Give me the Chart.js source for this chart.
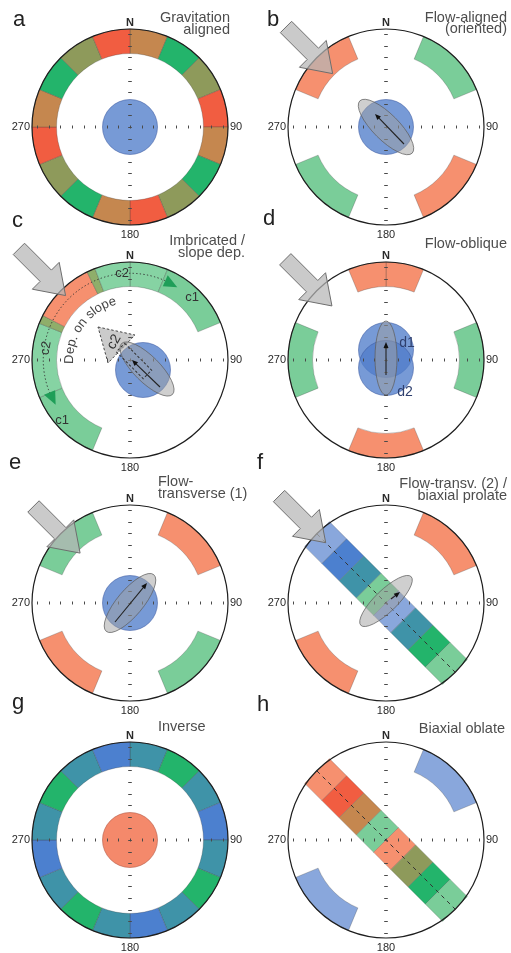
<!DOCTYPE html>
<html>
<head>
<meta charset="utf-8">
<script src="https://cdn.jsdelivr.net/npm/chart.js@4.4.1/dist/chart.umd.min.js"></script>
<style>
  html, body { margin: 0; padding: 0; background: #fff; }
  body { position: relative; width: 511px; height: 953px; overflow: hidden; font-family: "Liberation Sans", Arial, sans-serif; }
  canvas { position: absolute; }
  .t { position: absolute; white-space: nowrap; color: #4d4d4d; }
</style>
</head>
<body>
<script>
// colours
const RED = '#f15d41', BRN = '#c5874f', OLV = '#8e9a5b', GRN = '#23b46b';
const SAL = '#f6906f', LGR = '#7acd99', TEA = '#3f93a8', BLU = '#4c80cf', LBL = '#89a7dc';
const CG1 = '#7acd99', CG2 = '#86d3a3', COL = '#8fae6a';
const NONE = 'rgba(0,0,0,0)';
const DISC = 'rgba(81,126,203,0.78)';
const DISC_G = '#f4896b';

// ring sectors, widths in degrees clockwise from N
const spanA = [22.5, 22.5, 22.5, 22.5, 22.5, 22.5, 22.5, 22.5, 22.5, 22.5, 22.5, 22.5, 22.5, 22.5, 22.5, 22.5];
const colA = [BRN, GRN, OLV, RED, BRN, GRN, OLV, RED, BRN, GRN, OLV, RED, BRN, GRN, OLV, RED];
const colG = [TEA, GRN, TEA, BLU, TEA, GRN, TEA, BLU, TEA, GRN, TEA, BLU, TEA, GRN, TEA, BLU];
const spanQ = [22.5, 45, 45, 45, 45, 45, 45, 45, 22.5];
const colB = [NONE, LGR, NONE, SAL, NONE, LGR, NONE, SAL, NONE];
const colD = [SAL, NONE, LGR, NONE, SAL, NONE, LGR, NONE, SAL];
const colE = [NONE, SAL, NONE, LGR, NONE, SAL, NONE, LGR, NONE];
const colF = [NONE, SAL, NONE, NONE, NONE, SAL, NONE, NONE, NONE];
const colH = [NONE, LBL, NONE, NONE, NONE, LBL, NONE, NONE, NONE];
const spanC = [22.5, 45, 135, 45, 44.5, 5, 37, 5, 21];
const colC = [CG2, CG1, NONE, CG1, CG2, COL, SAL, COL, CG2];

// diagonal bands of cells (NW -> SE)
const bandF = [LBL, BLU, TEA, LGR, LBL, TEA, GRN, LGR];
const bandH = [SAL, RED, BRN, LGR, SAL, OLV, GRN, LGR];

// axis labels
const axisLabels = ['N', '90', '180', '270'];

const panels = [
  { id: 'a', cx: 130, cy: 127, span: spanA, colors: colA, disc: DISC },
  { id: 'b', cx: 386, cy: 127, span: spanQ, colors: colB, disc: DISC, arrow: 0.77,
    ell: { x: 0, y: 0, a: 37, b: 13, ang: 45 }, vec: [18, 17, -11, -13] },
  { id: 'c', cx: 130, cy: 360, span: spanC, colors: colC, discs: [[13, 10]], arrow: 0.93,
    ell: { x: 17, y: 9, a: 36, b: 13, ang: 45 }, vec: [30, 27, 2, 0] },
  { id: 'd', cx: 386, cy: 360, span: spanQ, colors: colD, discs: [[0, -10], [0, 8]], arrow: 0.78,
    ell: { x: 0, y: -2, a: 37, b: 11, ang: 90 }, vec: [0, 15, 0, -18] },
  { id: 'e', cx: 130, cy: 603, span: spanQ, colors: colE, disc: DISC, arrow: 0.72,
    ell: { x: 0, y: 0, a: 37, b: 13, ang: -50 }, vec: [-15, 19, 17, -20] },
  { id: 'f', cx: 386, cy: 603, span: spanQ, colors: colF, band: bandF, arrow: 0.87,
    ell: { x: 0, y: -2, a: 35, b: 11, ang: -44 }, vec: [5, -4, 14, -11] },
  { id: 'g', cx: 130, cy: 840, span: spanA, colors: colG, disc: DISC_G },
  { id: 'h', cx: 386, cy: 840, span: spanQ, colors: colH, band: bandH }
];

function addText(str, x, base, size, align, color) {
  const d = document.createElement('div');
  d.className = 't';
  d.textContent = str;
  d.style.fontSize = size + 'px';
  d.style.lineHeight = size + 'px';
  d.style.top = (base - 0.8465 * size) + 'px';
  if (align === 'right') d.style.right = (511 - x) + 'px';
  else d.style.left = x + 'px';
  if (color) d.style.color = color;
  document.body.appendChild(d);
}

function rad(d) { return d * Math.PI / 180; }

function drawCross(ctx, cx, cy, R) {
  const s = R / 8.45;
  ctx.strokeStyle = '#4a4a4a';
  ctx.lineWidth = 1;
  ctx.setLineDash([]);
  ctx.beginPath();
  for (let k = -8; k <= 8; k++) {
    const x = Math.round(cx + k * s) + 0.5;
    ctx.moveTo(x, cy - 1.5); ctx.lineTo(x, cy + 1.5);
    const y = Math.round(cy + k * s) + 0.5;
    ctx.moveTo(cx - 1.8, y); ctx.lineTo(cx + 1.8, y);
  }
  ctx.stroke();
}

function ellipse(ctx, x, y, a, b, ang, fill, stroke) {
  ctx.beginPath();
  ctx.ellipse(x, y, a, b, rad(ang), 0, Math.PI * 2);
  ctx.fillStyle = fill; ctx.fill();
  ctx.strokeStyle = stroke; ctx.lineWidth = 1; ctx.stroke();
}

function vecArrow(ctx, x0, y0, x1, y1) {
  const ang = Math.atan2(y1 - y0, x1 - x0);
  ctx.strokeStyle = '#222'; ctx.lineWidth = 1.1; ctx.setLineDash([]);
  ctx.beginPath(); ctx.moveTo(x0, y0); ctx.lineTo(x1 - 3 * Math.cos(ang), y1 - 3 * Math.sin(ang)); ctx.stroke();
  ctx.fillStyle = '#111';
  ctx.beginPath();
  ctx.moveTo(x1, y1);
  ctx.lineTo(x1 - 6 * Math.cos(ang) + 2.5 * Math.sin(ang), y1 - 6 * Math.sin(ang) - 2.5 * Math.cos(ang));
  ctx.lineTo(x1 - 6 * Math.cos(ang) - 2.5 * Math.sin(ang), y1 - 6 * Math.sin(ang) + 2.5 * Math.cos(ang));
  ctx.closePath(); ctx.fill();
}

function bigArrow(ctx, cx, cy, R, tipDist) {
  const ux = Math.SQRT1_2, uy = Math.SQRT1_2;
  const nx = -uy, ny = ux;
  const tx = cx - ux * tipDist * R, ty = cy - uy * tipDist * R;
  const L = 66, H = 28, w = 8, hw = 19;
  const bx = tx - ux * H, by = ty - uy * H;
  const sx = tx - ux * L, sy = ty - uy * L;
  ctx.beginPath();
  ctx.moveTo(sx + nx * w, sy + ny * w);
  ctx.lineTo(bx + nx * w, by + ny * w);
  ctx.lineTo(bx + nx * hw, by + ny * hw);
  ctx.lineTo(tx, ty);
  ctx.lineTo(bx - nx * hw, by - ny * hw);
  ctx.lineTo(bx - nx * w, by - ny * w);
  ctx.lineTo(sx - nx * w, sy - ny * w);
  ctx.closePath();
  ctx.fillStyle = 'rgba(182,182,182,0.72)'; ctx.fill();
  ctx.strokeStyle = '#6e6e6e'; ctx.lineWidth = 1; ctx.setLineDash([]); ctx.stroke();
}

function drawBand(ctx, cx, cy, cols) {
  const ux = Math.SQRT1_2, uy = Math.SQRT1_2;
  const nx = -uy, ny = ux;
  const L = 24.4, W = 35, n = cols.length;
  cols.forEach((c, i) => {
    const s0 = (i - n / 2) * L, s1 = s0 + L;
    ctx.beginPath();
    ctx.moveTo(cx + ux * s0 + nx * W / 2, cy + uy * s0 + ny * W / 2);
    ctx.lineTo(cx + ux * s1 + nx * W / 2, cy + uy * s1 + ny * W / 2);
    ctx.lineTo(cx + ux * s1 - nx * W / 2, cy + uy * s1 - ny * W / 2);
    ctx.lineTo(cx + ux * s0 - nx * W / 2, cy + uy * s0 - ny * W / 2);
    ctx.closePath();
    ctx.fillStyle = c; ctx.fill();
    ctx.strokeStyle = 'rgba(70,70,70,0.3)'; ctx.lineWidth = 0.8; ctx.stroke();
  });
  const e = n / 2 * L;
  ctx.setLineDash([4, 4]);
  ctx.strokeStyle = '#333'; ctx.lineWidth = 1;
  ctx.beginPath();
  ctx.moveTo(cx - ux * e, cy - uy * e); ctx.lineTo(cx + ux * e, cy + uy * e);
  ctx.stroke();
  ctx.setLineDash([]);
}

function arcText(ctx, str, cx, cy, r, startDeg) {
  let a = rad(startDeg);
  for (const ch of str) {
    const w = ctx.measureText(ch).width;
    const mid = a + (w / 2) / r;
    ctx.save();
    ctx.translate(cx + r * Math.sin(mid), cy - r * Math.cos(mid));
    ctx.rotate(mid);
    ctx.fillText(ch, 0, 0);
    ctx.restore();
    a += w / r;
  }
}

function tri(ctx, pts, fill) {
  ctx.beginPath();
  ctx.moveTo(pts[0], pts[1]); ctx.lineTo(pts[2], pts[3]); ctx.lineTo(pts[4], pts[5]);
  ctx.closePath(); ctx.fillStyle = fill; ctx.fill();
}

function extrasC(ctx, cx, cy, R) {
  // dotted arc (c2 sense) with arrowheads
  const r = 0.885 * R;
  ctx.setLineDash([1.3, 2.3]);
  ctx.strokeStyle = '#333'; ctx.lineWidth = 1;
  ctx.beginPath();
  ctx.arc(cx, cy, r, rad(245 - 90), rad(387 - 90));
  ctx.stroke();
  ctx.setLineDash([]);
  const head = (deg, dir) => {
    const a0 = rad(deg), a1 = rad(deg + dir * 9);
    const p = (a, rr) => [cx + rr * Math.sin(a), cy - rr * Math.cos(a)];
    const t = p(a1, r), b1 = p(a0, r - 6), b2 = p(a0, r + 6);
    tri(ctx, [t[0], t[1], b1[0], b1[1], b2[0], b2[1]], '#1f9e58');
  };
  head(24, 1);
  head(248, -1);
  // dashed triangle (c2 direction)
  ctx.beginPath();
  ctx.moveTo(cx - 32, cy - 33); ctx.lineTo(cx + 5, cy - 25); ctx.lineTo(cx - 22, cy + 3);
  ctx.closePath();
  ctx.fillStyle = 'rgba(190,190,190,0.8)'; ctx.fill();
  ctx.setLineDash([2.5, 2]); ctx.strokeStyle = '#444'; ctx.stroke();
  ctx.setLineDash([]);
  ctx.fillStyle = '#333';
  ctx.font = '14px "Liberation Sans", Arial, sans-serif';
  ctx.textAlign = 'center'; ctx.textBaseline = 'middle';
  ctx.save(); ctx.translate(cx - 16, cy - 18); ctx.rotate(rad(-60)); ctx.fillText('c2', 0, 0); ctx.restore();
  // curved label
  ctx.font = '13px "Liberation Sans", Arial, sans-serif';
  ctx.textAlign = 'center'; ctx.textBaseline = 'alphabetic';
  ctx.fillStyle = '#444';
  arcText(ctx, 'Dep. on slope', cx, cy, 57, 266);
  // ring labels
  ctx.font = '13px "Liberation Sans", Arial, sans-serif';
  ctx.textBaseline = 'middle';
  ctx.fillStyle = '#333';
  ctx.fillText('c1', cx + 62, cy - 63);
  ctx.fillText('c1', cx - 68, cy + 60);
  ctx.fillText('c2', cx - 8, cy - 87);
  ctx.save(); ctx.translate(cx - 84, cy - 12); ctx.rotate(rad(-80)); ctx.fillText('c2', 0, 0); ctx.restore();
}

function extrasCTop(ctx, cx, cy) {
  ctx.save();
  ctx.translate(cx + 4, cy + 1);
  ctx.rotate(rad(45));
  ctx.setLineDash([2.5, 2]); ctx.strokeStyle = '#333'; ctx.lineWidth = 1;
  ctx.strokeRect(-19, -6, 38, 12);
  ctx.restore();
  ctx.setLineDash([]);
}

function extrasD(ctx, cx, cy) {
  ctx.font = '14px "Liberation Sans", Arial, sans-serif';
  ctx.textAlign = 'center'; ctx.textBaseline = 'middle';
  ctx.fillStyle = '#2e3f6e';
  ctx.fillText('d1', cx + 21, cy - 17);
  ctx.fillText('d2', cx + 19, cy + 32);
}

function decorate(chart, p) {
  const ctx = chart.ctx;
  const arc = chart.getDatasetMeta(0).data[0];
  const cx = arc.x, cy = arc.y, R = arc.outerRadius;
  ctx.save();
  if (p.band) drawBand(ctx, cx, cy, p.band);
  if (p.discs) {
    p.discs.forEach(d => {
      ctx.beginPath(); ctx.arc(cx + d[0], cy + d[1], 27.5, 0, Math.PI * 2);
      ctx.fillStyle = DISC; ctx.fill();
      ctx.strokeStyle = 'rgba(60,90,160,0.55)'; ctx.lineWidth = 1; ctx.stroke();
    });
  }
  if (p.disc) {
    ctx.beginPath(); ctx.arc(cx, cy, 27.5, 0, Math.PI * 2);
    ctx.strokeStyle = p.disc === DISC_G ? 'rgba(180,90,70,0.6)' : 'rgba(60,90,160,0.55)';
    ctx.lineWidth = 1; ctx.stroke();
  }
  if (p.id === 'c') extrasC(ctx, cx, cy, R);
  drawCross(ctx, cx, cy, R);
  if (p.ell) ellipse(ctx, cx + p.ell.x, cy + p.ell.y, p.ell.a, p.ell.b, p.ell.ang, 'rgba(160,160,160,0.5)', 'rgba(95,95,95,0.75)');
  if (p.id === 'c') extrasCTop(ctx, cx, cy);
  if (p.vec) vecArrow(ctx, cx + p.vec[0], cy + p.vec[1], cx + p.vec[2], cy + p.vec[3]);
  if (p.id === 'd') extrasD(ctx, cx, cy);
  // outer circle
  ctx.setLineDash([]);
  ctx.beginPath(); ctx.arc(cx, cy, R, 0, Math.PI * 2);
  ctx.strokeStyle = '#1e1e1e'; ctx.lineWidth = 1.2; ctx.stroke();
  if (p.arrow) bigArrow(ctx, cx, cy, R, p.arrow);
  // axis labels
  ctx.fillStyle = '#2a2a2a';
  ctx.font = 'bold 11px "Liberation Sans", Arial, sans-serif';
  ctx.textAlign = 'center'; ctx.textBaseline = 'alphabetic';
  ctx.fillText(axisLabels[0], cx, cy - R - 3);
  ctx.font = '11px "Liberation Sans", Arial, sans-serif';
  ctx.fillText(axisLabels[2], cx, cy + R + 12.5);
  ctx.textBaseline = 'middle';
  ctx.textAlign = 'left';
  ctx.fillText(axisLabels[1], cx + R + 2, cy);
  ctx.textAlign = 'right';
  ctx.fillText(axisLabels[3], cx - R - 2, cy);
  ctx.restore();
}

function makePanel(p) {
  const W = 255, H = 270;
  const cv = document.createElement('canvas');
  cv.width = W; cv.height = H;
  const left = p.cx > 255 ? 255 : 0;
  const cxl = p.cx - left;
  cv.style.left = left + 'px';
  cv.style.top = (p.cy - 152) + 'px';
  document.body.appendChild(cv);
  new Chart(cv, {
    type: 'doughnut',
    data: {
      labels: p.span.map((v, i) => 'sector ' + (i + 1)),
      datasets: [
        { data: p.span, backgroundColor: p.colors,
          borderColor: p.colors.map(c => c === NONE ? NONE : 'rgba(60,60,60,0.35)'),
          borderWidth: p.colors.map(c => c === NONE ? 0 : 0.8), weight: 24.5 },
        { data: [1], backgroundColor: NONE, borderWidth: 0, weight: 46 },
        { data: [1], backgroundColor: p.disc || NONE, borderWidth: 0, weight: 27.5 }
      ]
    },
    options: {
      responsive: false,
      animation: false,
      cutout: 0,
      radius: 98,
      events: [],
      layout: { padding: { left: cxl - 100, right: W - cxl - 100, top: 52, bottom: H - 152 - 100 } },
      plugins: { legend: { display: false }, tooltip: { enabled: false } }
    },
    plugins: [{ id: 'deco_' + p.id, afterDatasetsDraw(chart) { decorate(chart, p); } }]
  });
}

panels.forEach(makePanel);

// panel letters
addText('a', 13, 27, 22, 'left', '#222');
addText('b', 267, 27, 22, 'left', '#222');
addText('c', 12, 228, 22, 'left', '#222');
addText('d', 263, 226, 22, 'left', '#222');
addText('e', 9, 470, 22, 'left', '#222');
addText('f', 257, 470, 22, 'left', '#222');
addText('g', 12, 710, 22, 'left', '#222');
addText('h', 257, 712, 22, 'left', '#222');

// panel titles
addText('Gravitation', 230, 22.3, 14.5, 'right');
addText('aligned', 230, 34.3, 14.5, 'right');
addText('Flow-aligned', 507, 22.5, 14.5, 'right');
addText('(oriented)', 507, 33.5, 14.5, 'right');
addText('Imbricated /', 245, 245, 14.5, 'right');
addText('slope dep.', 245, 257, 14.5, 'right');
addText('Flow-oblique', 507, 248, 14.5, 'right');
addText('Flow-', 158, 486.5, 14.5, 'left');
addText('transverse (1)', 158, 498, 14.5, 'left');
addText('Flow-transv. (2) /', 507, 488, 14.5, 'right');
addText('biaxial prolate', 507, 500, 14.5, 'right');
addText('Inverse', 158, 731, 14.5, 'left');
addText('Biaxial oblate', 505, 733, 14.5, 'right');
</script>
</body>
</html>
